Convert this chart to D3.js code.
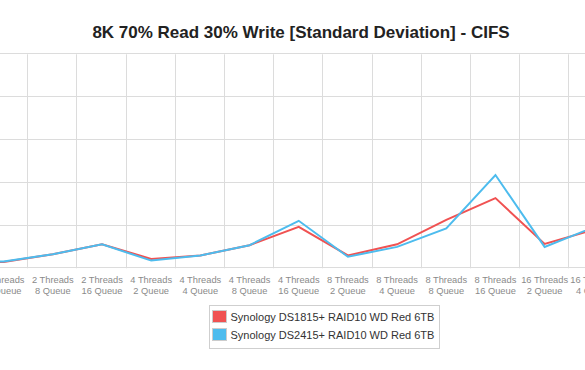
<!DOCTYPE html>
<html>
<head>
<meta charset="utf-8">
<script src="https://cdn.jsdelivr.net/npm/d3@7"></script>
<style>
  body { margin: 0; background: #fff; }
  svg { display: block; font-family: "Liberation Sans", Arial, Helvetica, sans-serif; }
</style>
</head>
<body>
<div id="chart"></div>
<script>
// categories (the plot is wider than the window; only part of it shows)
const threads = ["2 Threads", "2 Threads", "2 Threads", "2 Threads", "4 Threads", "4 Threads", "4 Threads", "4 Threads",
                 "8 Threads", "8 Threads", "8 Threads", "8 Threads", "16 Threads", "16 Threads"];
const queues = ["2 Queue", "4 Queue", "8 Queue", "16 Queue", "2 Queue", "4 Queue", "8 Queue", "16 Queue",
                "2 Queue", "4 Queue", "8 Queue", "16 Queue", "2 Queue", "4 Queue"];
const categories = threads.map((t, i) => t + " " + queues[i]);

// standard deviation (ms)
const ds1815 = [1.3, 1.5, 3.3, 5.6, 2.2, 3.0, 5.4, 9.7, 3.0, 5.6, 11.3, 16.4, 5.7, 9.0];
const ds2415 = [1.3, 1.6, 3.3, 5.6, 1.8, 3.0, 5.4, 11.1, 2.7, 5.0, 9.3, 21.8, 5.0, 9.6];

const seriesNames = ["Synology DS1815+ RAID10 WD Red 6TB", "Synology DS2415+ RAID10 WD Red 6TB"];
const seriesColors = ["#f05252", "#4dbcee"];
const yTicks = [0, 10, 20, 30, 40, 50];

const width = 585, height = 370;

const svg = d3.select("#chart")
  .append("svg")
  .attr("width", width)
  .attr("height", height);

// Title
svg.append("text")
  .attr("x", 301)
  .attr("y", 37.5)
  .attr("text-anchor", "middle")
  .style("font-size", "17px")
  .style("font-weight", "bold")
  .style("fill", "#222")
  .text("8K 70% Read 30% Write [Standard Deviation] - CIFS");

// Scales
const x = d3.scaleBand()
  .domain(categories)
  .range([-70.1, 618.4])
  .padding(0);

const y = d3.scaleLinear()
  .domain([0, 50])
  .range([268.3, 54.3]);

const crisp = v => Math.round(v) + 0.5;

// Horizontal grid
svg.append("g")
  .selectAll("line")
  .data(yTicks)
  .join("line")
  .attr("x1", 0)
  .attr("x2", width)
  .attr("y1", d => crisp(y(d)) - 1)
  .attr("y2", d => crisp(y(d)) - 1)
  .attr("stroke", "#dcdcdc")
  .attr("stroke-width", 1);

// Vertical grid between categories
svg.append("g")
  .selectAll("line")
  .data(categories.slice(1))
  .join("line")
  .attr("x1", d => crisp(x(d)) - 1)
  .attr("x2", d => crisp(x(d)) - 1)
  .attr("y1", y(50))
  .attr("y2", y(0))
  .attr("stroke", "#dcdcdc")
  .attr("stroke-width", 1);

// X labels
const labels = svg.append("g")
  .selectAll("text")
  .data(categories)
  .join("text")
  .attr("text-anchor", "middle")
  .style("font-size", "9.3px")
  .style("fill", "#8a8a8a");

labels.append("tspan")
  .attr("x", d => x(d) + x.bandwidth() / 2)
  .attr("y", 282.5)
  .text((d, i) => threads[i]);

labels.append("tspan")
  .attr("x", d => x(d) + x.bandwidth() / 2)
  .attr("y", 294)
  .text((d, i) => queues[i]);

// Lines
const line = d3.line()
  .x((d, i) => x(categories[i]) + x.bandwidth() / 2)
  .y(d => y(d));

[ds1815, ds2415].forEach((values, k) => {
  svg.append("path")
    .datum(values)
    .attr("d", line)
    .attr("fill", "none")
    .attr("stroke", seriesColors[k])
    .attr("stroke-width", 2)
    .attr("stroke-linejoin", "miter");
});

// Legend
const legend = svg.append("g");

legend.append("rect")
  .attr("x", 209.5)
  .attr("y", 305.5)
  .attr("width", 230)
  .attr("height", 43)
  .attr("fill", "#fff")
  .attr("stroke", "#cfcfcf");

seriesNames.forEach((name, i) => {
  const rowY = 310.5 + i * 18;
  legend.append("rect")
    .attr("x", 212.5)
    .attr("y", rowY)
    .attr("width", 14)
    .attr("height", 12)
    .attr("fill", seriesColors[i])
    .attr("stroke", "#ccc");
  legend.append("text")
    .attr("x", 230.5)
    .attr("y", rowY + 10)
    .style("font-size", "11px")
    .style("fill", "#333")
    .text(name);
});
</script>
</body>
</html>
